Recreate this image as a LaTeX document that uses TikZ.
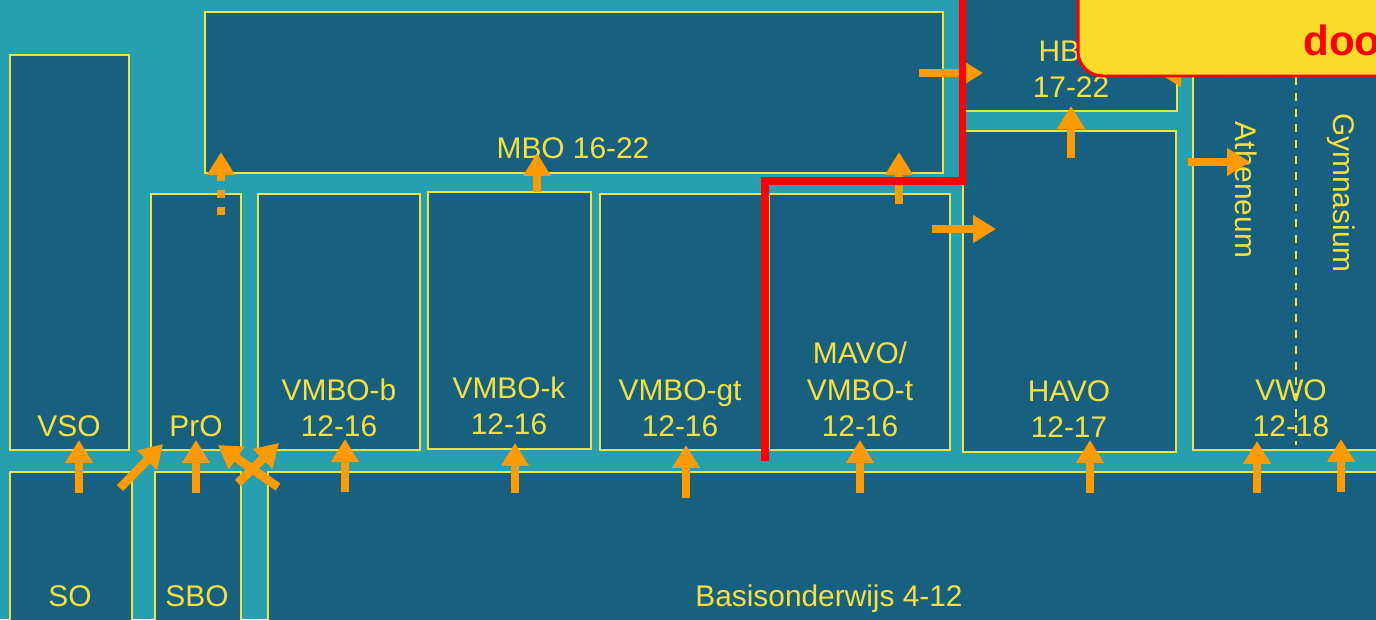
\documentclass[tikz,border=0pt]{standalone}
\usepackage{fontspec}
\setmainfont{Liberation Sans}
\usetikzlibrary{arrows.meta}
\definecolor{bgteal}{HTML}{26A0AF}
\definecolor{boxblue}{HTML}{18607F}
\definecolor{lineyel}{HTML}{F2E23A}
\definecolor{txtyel}{HTML}{F7E03C}
\definecolor{arrorange}{HTML}{FF9A00}
\definecolor{calloutyel}{HTML}{F9DC28}
\definecolor{redline}{HTML}{FF0000}
\begin{document}
\begin{tikzpicture}[x=0.02cm,y=-0.02cm,
  box/.style={fill=boxblue,draw=lineyel,line width=0.85pt},
  thickbox/.style={fill=boxblue,draw=lineyel,line width=1.4pt},
  lbl/.style={text=txtyel,font=\fontsize{17}{20.4}\selectfont,inner sep=0pt,anchor=base},
  arr/.style={draw=arrorange,line width=4.9pt,-{Triangle[width=15pt,length=13pt]}},
  sq/.style={fill=arrorange},
]
\useasboundingbox (0,0) rectangle (1376,619);
\clip (0,0) rectangle (1376,619);
\fill[bgteal] (0,0) rectangle (1376,619);

% upper boxes
\draw[box] (10,55) rectangle (129,450);
\draw[box] (151,194) rectangle (241,450);
\draw[box] (205,12) rectangle (943,173);
\draw[box] (258,194) rectangle (420,450);
\draw[box] (428,192) rectangle (591,449);
\draw[box] (600,194) rectangle (762,450);
\draw[box] (769,194) rectangle (950,450);
\draw[box] (963,131) rectangle (1176,452);
\draw[box] (963,-20) rectangle (1177,111);
\draw[box] (1193,-20) rectangle (1400,450);
% lower boxes
\draw[thickbox] (10,472) rectangle (132,640);
\draw[thickbox] (155,472) rectangle (241,640);
\draw[box] (268,472) rectangle (1400,640);

% dashed divider in VWO
\draw[lineyel,line width=1.2pt,dash pattern=on 4.5pt off 4.5pt] (1296,77) -- (1296,445);

% labels
\node[lbl] (vso) at (69,436) {VSO};
\node[lbl] (pro) at (196,436) {PrO};
\node[lbl] (vb1) at (339,400) {VMBO-b};
\node[lbl] (vb2) at (339,436) {12-16};
\node[lbl] (vk1) at (509,398) {VMBO-k};
\node[lbl] (vk2) at (509,434) {12-16};
\node[lbl] (vg1) at (680,400) {VMBO-gt};
\node[lbl] (vg2) at (680,436) {12-16};
\node[lbl] (mv1) at (860,363) {MAVO/};
\node[lbl] (mv2) at (860,400) {VMBO-t};
\node[lbl] (mv3) at (860,436) {12-16};
\node[lbl] (ha1) at (1069,401) {HAVO};
\node[lbl] (ha2) at (1069,437) {12-17};
\node[lbl] (vw1) at (1291,400) {VWO};
\node[lbl] (vw2) at (1291,436) {12-18};
\node[lbl] (mbo) at (573,158) {MBO 16-22};
\node[lbl] (hb1) at (1071,61) {HBO};
\node[lbl] (hb2) at (1071,97) {17-22};
\node[lbl,anchor=center,rotate=-90] (ath) at (1246,190) {Atheneum};
\node[lbl,anchor=center,rotate=-90] (gym) at (1341,193) {Gymnasium};
\node[lbl] (so) at (70,606) {SO};
\node[lbl] (sbo) at (197,606) {SBO};
\node[lbl] (bas) at (829,606) {Basisonderwijs 4-12};

% arrows
\draw[arr] (79,493) -- (79,440);
\draw[arr] (120,488) -- (163,444);
\draw[arr] (196,493) -- (196,440);
\draw[arr] (278,487) -- (218,445);
\draw[arr] (238,483) -- (279,443);
\draw[arr] (345,492) -- (345,439);
\draw[arr] (515,493) -- (515,443);
\draw[arr] (686,498) -- (686,445);
\draw[arr] (860,493) -- (860,440);
\draw[arr] (1090,493) -- (1090,440);
\draw[arr] (1257,493) -- (1257,441);
\draw[arr] (1341,492) -- (1341,439);
\draw[arr] (537,192) -- (537,153);
\draw[arr] (221,181) -- (221,152);
\fill[sq] (217,190) rectangle (225,198);
\fill[sq] (217,207) rectangle (225,215);
\draw[arr] (899,204) -- (899,152);
\draw[arr] (932,229) -- (996,229);
\draw[arr] (919,73) -- (983,73);
\draw[arr] (1071,158) -- (1071,106);
\draw[arr] (1188,162) -- (1250,162);
\draw[arr] (1222,73) -- (1158,73);

% red boundary line
\draw[redline,line width=4.5pt,line join=miter] (765,461) -- (765,181) -- (962.5,181) -- (962.5,-10);

% callout
\draw[fill=calloutyel,draw=redline,line width=1.7pt,rounded corners=14pt] (1078,-40) rectangle (1430,76);
\node[anchor=base west,text=redline,font=\fontsize{24}{28}\selectfont\bfseries,inner sep=0pt] (doo) at (1303,55) {doo};
\end{tikzpicture}
\end{document}
